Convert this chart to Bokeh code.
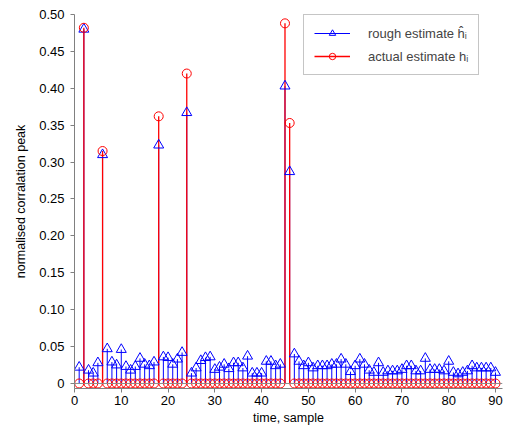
from bokeh.plotting import figure
from bokeh.models import (Legend, LegendItem, FixedTicker, CustomJSTickFormatter,
                          Span, Range1d, ColumnDataSource)
from bokeh.embed import file_html
from bokeh.resources import INLINE

samples = list(range(1, 91))

rough = [0.022, 0.480, 0.018, 0.014, 0.028, 0.310, 0.047, 0.029, 0.025, 0.046,
         0.023, 0.018, 0.023, 0.034, 0.026, 0.024, 0.029, 0.323, 0.036, 0.035,
         0.026, 0.033, 0.042, 0.367, 0.014, 0.021, 0.031, 0.035, 0.036, 0.019,
         0.022, 0.026, 0.020, 0.028, 0.028, 0.021, 0.037, 0.014, 0.014, 0.014,
         0.030, 0.030, 0.024, 0.026, 0.403, 0.287, 0.040, 0.030, 0.024, 0.028,
         0.021, 0.024, 0.024, 0.024, 0.026, 0.026, 0.033, 0.026, 0.016, 0.024,
         0.033, 0.026, 0.018, 0.015, 0.028, 0.015, 0.017, 0.017, 0.017, 0.019,
         0.024, 0.024, 0.017, 0.017, 0.034, 0.019, 0.019, 0.019, 0.017, 0.030,
         0.015, 0.013, 0.015, 0.017, 0.024, 0.021, 0.021, 0.021, 0.021, 0.015]

actual = [0.0, 0.482, 0.0, 0.0, 0.0, 0.315, 0.0, 0.0, 0.0, 0.0,
          0.0, 0.0, 0.0, 0.0, 0.0, 0.0, 0.0, 0.362, 0.0, 0.0,
          0.0, 0.0, 0.0, 0.420, 0.0, 0.0, 0.0, 0.0, 0.0, 0.0,
          0.0, 0.0, 0.0, 0.0, 0.0, 0.0, 0.0, 0.0, 0.0, 0.0,
          0.0, 0.0, 0.0, 0.0, 0.488, 0.353, 0.0, 0.0, 0.0, 0.0,
          0.0, 0.0, 0.0, 0.0, 0.0, 0.0, 0.0, 0.0, 0.0, 0.0,
          0.0, 0.0, 0.0, 0.0, 0.0, 0.0, 0.0, 0.0, 0.0, 0.0,
          0.0, 0.0, 0.0, 0.0, 0.0, 0.0, 0.0, 0.0, 0.0, 0.0,
          0.0, 0.0, 0.0, 0.0, 0.0, 0.0, 0.0, 0.0, 0.0, 0.0]

x_ticks = [0, 10, 20, 30, 40, 50, 60, 70, 80, 90]
y_ticks = [0, 0.05, 0.10, 0.15, 0.20, 0.25, 0.30, 0.35, 0.40, 0.45, 0.50]

src = ColumnDataSource(dict(x=samples, rough=rough, actual=actual,
                            base=[0.0] * len(samples)))

FONT = "Liberation Sans"

p = figure(width=508, height=428, output_backend="svg", toolbar_location=None,
           x_range=Range1d(0, 91.5), y_range=Range1d(-0.0068, 0.5),
           min_border_left=74, min_border_right=6, min_border_top=14,
           min_border_bottom=40)
p.outline_line_color = None
p.grid.visible = False
p.background_fill_color = "white"

# baseline
p.add_layout(Span(location=0, dimension="width", line_color="#8c8c8c", line_width=1))

blue_seg = p.segment(x0="x", y0="base", x1="x", y1="rough", source=src,
                     line_color="#0000ff", line_width=1)
red_seg = p.segment(x0="x", y0="base", x1="x", y1="actual", source=src,
                    line_color="#ff0000", line_width=1.3)
blue_tri = p.scatter(x="x", y="rough", source=src, marker="triangle", size=10,
                     fill_color=None, line_color="#0000ff", line_width=1)
red_circ = p.scatter(x="x", y="actual", source=src, marker="circle", size=9,
                     fill_color=None, line_color="#ff0000", line_width=1)

for ax in (p.xaxis[0], p.yaxis[0]):
    ax.axis_line_color = "#808080"
    ax.major_tick_line_color = "#808080"
    ax.minor_tick_line_color = None
    ax.major_tick_out = 4
    ax.major_tick_in = 0
    ax.major_label_text_font = FONT
    ax.major_label_text_font_size = "13px"
    ax.major_label_text_color = "black"
    ax.axis_label_text_font = FONT
    ax.axis_label_text_font_size = "12.5px"
    ax.axis_label_text_font_style = "normal"
    ax.axis_label_text_color = "black"

p.xaxis.ticker = FixedTicker(ticks=x_ticks)
p.yaxis.ticker = FixedTicker(ticks=y_ticks)
p.yaxis.formatter = CustomJSTickFormatter(code="return tick == 0 ? '0' : tick.toFixed(2);")
p.xaxis.major_label_standoff = 3
p.xaxis.axis_label_standoff = 3
p.yaxis.major_label_standoff = 6
p.yaxis.axis_label_standoff = 8
p.xaxis.axis_label = "time, sample"
p.yaxis.axis_label = "normalised corralation peak"

legend = Legend(items=[
    LegendItem(label="rough estimate ĥᵢ", renderers=[blue_seg, blue_tri]),
    LegendItem(label="actual estimate hᵢ", renderers=[red_seg, red_circ]),
], location=(229, 313))
legend.label_text_font = FONT
legend.label_text_font_size = "13px"
legend.glyph_width = 36
legend.glyph_height = 16
legend.label_height = 16
legend.spacing = 7
legend.padding = 10
legend.label_standoff = 18
legend.border_line_color = "#8c8c8c"
legend.border_line_width = 1.3
legend.background_fill_color = "white"
legend.background_fill_alpha = 1.0
p.add_layout(legend)

open("out.html", "w").write(file_html(p, INLINE))
